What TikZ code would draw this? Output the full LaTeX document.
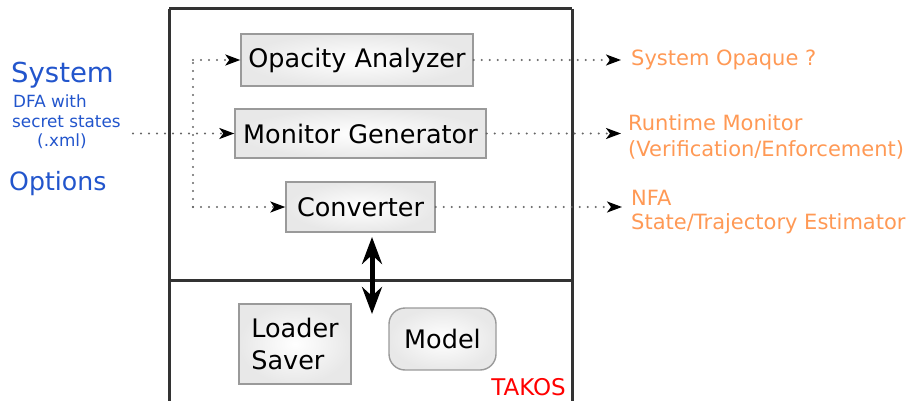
\documentclass[tikz,border=0pt]{standalone}
\usepackage{fontspec}
\setmainfont{DejaVu Sans}
\usetikzlibrary{arrows.meta,calc}
\definecolor{sysblue}{HTML}{2255CC}
\definecolor{outorange}{HTML}{FF9955}
\definecolor{takred}{HTML}{FF0000}
\definecolor{boxedge}{HTML}{9A9A9A}
\definecolor{frame}{HTML}{333333}
\definecolor{dotc}{HTML}{666666}
\begin{document}
\begin{tikzpicture}[x=1pt,y=-1pt,
  compbox/.style={draw=boxedge,line width=1.4pt,inner sep=0pt,
    shading=radial,inner color=white,outer color=black!9,
    font=\fontsize{25.5}{32}\selectfont,text=black},
  dotline/.style={draw=dotc,line width=2.2pt,line cap=round,dash pattern=on 0pt off 8pt,
    -{Stealth[length=15pt,width=11pt,inset=4pt,color=black]}},
  dotplain/.style={draw=dotc,line width=2.2pt,line cap=round,dash pattern=on 0pt off 8pt},
  outtext/.style={anchor=west,inner sep=0pt,text=outorange,font=\fontsize{21}{26}\selectfont},
  intext/.style={anchor=west,inner sep=0pt,text=sysblue},
  dblarrow/.style={line width=5pt,draw=black,
    {Stealth[length=27pt,width=20pt,inset=9pt]}-{Stealth[length=27pt,width=20pt,inset=9pt]}}
]
\useasboundingbox (0,0) rectangle (912,401);
% frame
\draw[frame,line width=3pt] (169,9) -- (169,420) (572,9) -- (572,420) (169,9) -- (572,9);
\draw[frame,line width=3pt] (169,280) -- (572,280);
% boxes
\node[compbox,minimum width=232pt,minimum height=52pt] (OA) at (357,60) {Opacity Analyzer};
\node[compbox,minimum width=251pt,minimum height=49pt] (MG) at (360.5,133.5) {Monitor Generator};
\node[compbox,minimum width=149pt,minimum height=50pt] (CV) at (360.5,207) {Converter};
\node[compbox,minimum width=112pt,minimum height=80pt,align=left] (LS) at (295,344) {Loader\\Saver};
\node[compbox,minimum width=107pt,minimum height=62pt,rounded corners=16pt] (MD) at (442.5,339) {Model};
\node[anchor=east,inner sep=0pt,text=takred,font=\fontsize{23}{28}\selectfont] (TK) at (566,387) {TAKOS};
% inputs
\node[intext,font=\fontsize{27.5}{32}\selectfont] (SYS) at (11,75) {System};
\node[intext,font=\fontsize{16.8}{20}\selectfont] (L1) at (13,101) {DFA with};
\node[intext,font=\fontsize{16.8}{20}\selectfont] (L2) at (12,122) {secret states};
\node[intext,font=\fontsize{16.8}{20}\selectfont] (L3) at (37,141) {(.xml)};
\node[intext,font=\fontsize{25.2}{30}\selectfont] (OPT) at (9,184) {Options};
% outputs
\node[outtext] (O1) at (631,60) {System Opaque ?};
\node[outtext] (O2a) at (628,123) {Runtime Monitor};
\node[outtext] (O2b) at (628,150) {(Verification/Enforcement)};
\node[outtext] (O3a) at (631,198) {NFA};
\node[outtext] (O3b) at (631,224) {State/Trajectory Estimator};
% connectors
\coordinate (in) at (133,133.5);
\coordinate (j1) at (193,60);
\coordinate (j2) at (193,207);
\draw[dotline] (in) -- (MG.west);
\draw[dotplain] (j2) -- (j1);
\draw[dotline] (j1) -- (OA.west);
\draw[dotline] (j2) -- (CV.west);
\coordinate (e1) at (621,60);
\coordinate (e2) at (621,133.5);
\coordinate (e3) at (622,207);
\draw[dotline] (OA.east) -- (e1);
\draw[dotline] (MG.east) -- (e2);
\draw[dotline] (CV.east) -- (e3);
\coordinate (dt) at (372,237);
\coordinate (db) at (372,314);
\draw[dblarrow] (dt) -- (db);
\end{tikzpicture}
\end{document}
